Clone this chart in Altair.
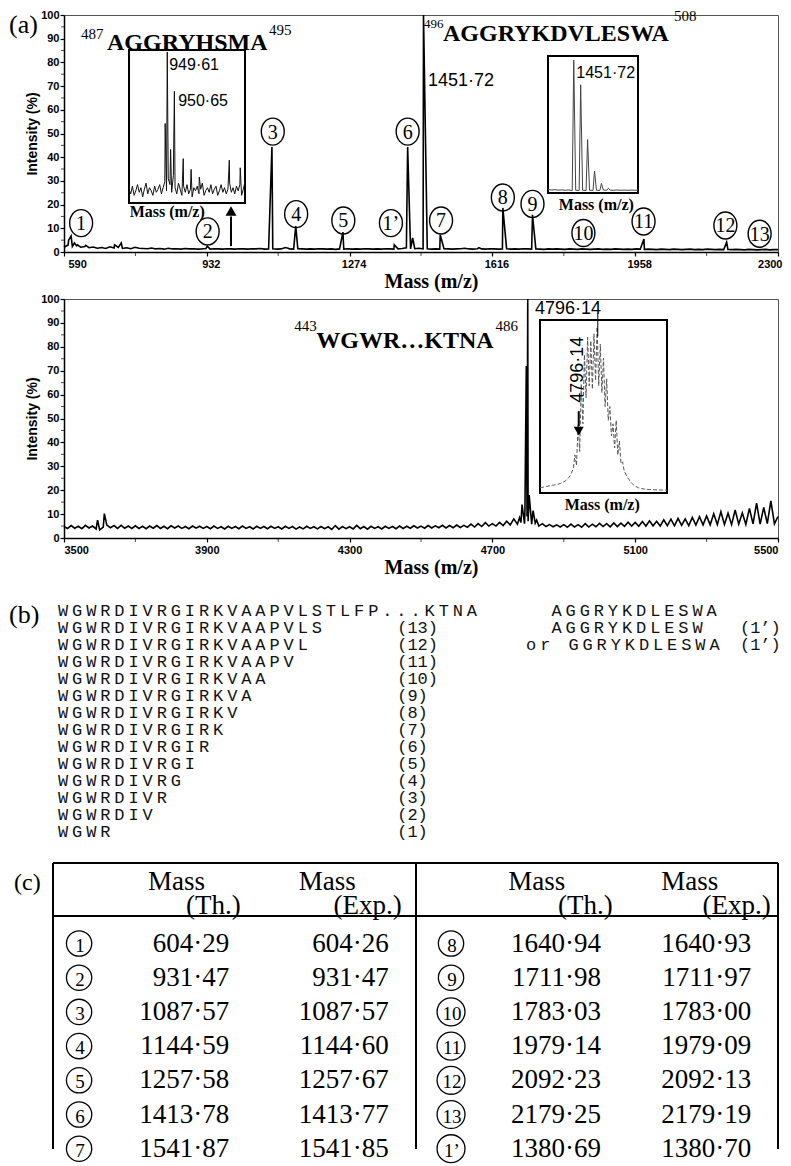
import altair as alt
import pandas as pd

SANS = "Liberation Sans, Arial, Helvetica, sans-serif"
SERIF = "Liberation Serif, Times New Roman, Times, serif"
MONO = "Liberation Mono, Courier New, Courier, monospace"

# ============================ DATA ============================
# (a) upper spectrum, m/z 590-2300: baseline read every 10 Da, plus peak apices
top_start, top_step = 590, 10
top_baseline = [
    2.0, 3.0, 2.4, 2.6, 2.0, 2.3, 1.8, 2.1, 1.6, 1.9, 1.5, 2.2, 1.7, 1.9, 1.5, 1.8, 1.4, 2.0, 1.6, 1.5,
    1.4, 1.7, 1.3, 1.5, 1.2, 1.6, 1.3, 1.4, 1.2, 1.5, 1.3, 1.4, 1.2, 1.3, 1.5, 1.2, 1.4, 1.3, 1.2, 1.4,
    1.3, 1.2, 1.4, 1.3, 1.2, 1.4, 1.3, 1.5, 1.2, 1.3, 1.4, 1.2, 1.3, 1.9, 1.3, 1.2, 1.4, 1.3, 1.2, 1.3,
    1.2, 1.4, 1.3, 1.2, 1.3, 1.1, 1.3, 1.2, 1.4, 1.2, 1.3, 1.2, 1.4, 1.3, 1.2, 1.3, 1.2, 1.4, 1.3, 1.2,
    1.3, 1.5, 1.8, 1.3, 1.4, 1.6, 1.3, 1.4, 1.2, 1.3, 1.2, 1.4, 1.3, 1.2, 1.3, 1.4, 1.6, 1.3, 1.2, 1.4,
    1.3, 1.2, 1.4, 1.3, 1.2, 1.3, 1.4, 1.2, 1.3, 1.2, 1.4, 1.3, 1.2, 1.3, 1.2, 1.1, 1.3, 1.2, 1.3, 1.2,
    1.1, 1.3, 1.2, 1.1, 1.3, 1.2, 1.1, 1.2, 1.3, 1.1, 1.2, 1.1, 1.3, 1.2, 1.1, 1.2, 1.1, 1.3, 1.2, 1.1,
    1.2, 1.1, 1.0, 1.2, 1.1, 1.0, 1.2, 1.1, 1.0, 1.1, 1.2, 1.0, 1.1, 1.0, 1.2, 1.1, 1.0, 1.1, 1.0, 1.1,
    1.0, 1.1, 1.0, 0.9, 1.1, 1.0, 0.9, 1.0, 1.1, 0.9, 1.0, 1.0,
]
top_peak_mass = [601, 607, 615, 622, 642, 711, 727, 933, 1088, 1127, 1145, 1258, 1381, 1413,
                 1425, 1451, 1491, 1584, 1641, 1712, 1979, 2177]
top_peak_int = [5.0, 6.8, 3.8, 3.0, 2.8, 3.0, 3.8, 2.5, 44.3, 1.6, 10.9, 8.4, 3.0, 44.3,
                5.9, 100.0, 7.3, 1.8, 18.6, 15.7, 5.5, 4.1]
top_ticks = [590, 932, 1274, 1616, 1958, 2300]
top_minor = [761, 1103, 1445, 1787, 2129]

top_circle_labels = ["1", "2", "3", "4", "5", "1’", "6", "7", "8", "9", "10", "11", "12", "13"]
top_circle_mass = [631, 934, 1090, 1146, 1259, 1373, 1413, 1493, 1641, 1712, 1834, 1978, 2174, 2256]
top_circle_int = [12.2, 8.7, 50.8, 16.0, 13.3, 12.2, 50.8, 13.3, 23.0, 20.3, 8.0, 12.9, 11.2, 7.7]

# inset of the 949.61 region (arbitrary inset intensity units)
in1_start, in1_step = 944.0, 0.25
in1_baseline = [
    9, 6, 11, 5, 8, 12, 7, 10, 4, 9,
    13, 6, 10, 8, 5, 11, 7, 9, 12, 6,
    10, 14, 8, 16, 12, 7, 18, 10, 6, 13,
    9, 5, 11, 7, 12, 6, 9, 4, 10, 8,
    11, 6, 9, 13, 5, 8, 10, 7, 12, 6,
    9, 11, 5, 8, 12, 7, 10, 6, 9, 13,
    7, 10, 6, 11, 8, 12, 5, 9, 14,
]
in1_peak_mass = [949.3, 949.61, 950.1, 950.65, 951.95, 953.1, 954.3, 958.7, 960.3]
in1_peak_int = [52, 98.7, 35, 73, 29, 22, 17, 28, 23]

# inset of the 1451.72 isotope cluster
in2_start, in2_step = 1448.0, 0.5
in2_baseline = [2.5, 2.2, 2.4, 2.1, 2.3, 2.0, 2.2, 1.8, 2.0, 1.8, 2.0, 1.8, 2.0, 1.9,
                2.0, 1.9, 2.1, 2.0, 2.1, 2.0, 2.2, 2.0, 2.1, 2.0, 2.1, 2.0, 2.1]
in2_peak_mass = [1451.72, 1452.72, 1453.72, 1454.72, 1455.72, 1456.72]
in2_peak_int = [97, 79, 39, 16, 7, 3.5]

# (a) lower spectrum, m/z 3500-5500
bot_start, bot_step = 3500, 10
bot_baseline = [
    4.8, 4.0, 5.2, 4.1, 4.9, 3.9, 5.3, 4.2, 5.0, 3.8, 3.4, 4.6, 5.4, 4.3, 5.2, 4.0, 5.3, 4.1, 5.0, 4.0,
    5.1, 4.0, 4.9, 3.9, 5.0, 4.1, 5.2, 4.0, 4.9, 3.9, 5.1, 4.2, 5.0, 4.0, 4.8, 3.9, 5.0, 4.1, 4.9, 4.0,
    4.8, 3.9, 5.0, 4.0, 4.7, 3.8, 4.9, 4.0, 4.8, 3.9, 5.0, 4.0, 4.7, 3.8, 4.9, 4.0, 4.8, 3.9, 4.9, 4.0,
    4.7, 3.8, 4.9, 4.0, 4.8, 3.7, 4.6, 3.8, 4.9, 4.0, 4.7, 3.8, 4.8, 3.9, 4.7, 3.6, 5.2, 3.7, 4.8, 3.9,
    4.7, 3.8, 5.3, 3.9, 4.8, 3.7, 4.9, 4.0, 4.7, 3.8, 4.9, 4.0, 4.8, 3.9, 5.0, 4.0, 4.9, 4.1, 5.1, 4.2,
    5.0, 4.1, 5.2, 4.2, 5.1, 4.3, 5.3, 4.2, 5.2, 4.3, 5.4, 4.4, 5.3, 4.5, 5.8, 4.6, 6.0, 4.8, 6.4, 5.0,
    6.0, 5.0, 6.5, 5.2, 7.0, 5.5, 8.0, 5.8, 6.5, 6.0, 7.0, 5.8, 6.2, 5.0, 6.0, 4.8, 5.6, 4.7, 5.5, 4.6,
    5.6, 4.5, 5.8, 4.6, 5.6, 4.5, 6.0, 4.6, 5.8, 4.7, 6.1, 4.8, 6.0, 4.7, 6.3, 4.8, 6.2, 4.9, 6.6, 5.0,
    6.5, 4.9, 6.9, 5.0, 7.2, 5.1, 7.0, 5.0, 7.6, 5.2, 7.9, 5.1, 8.2, 5.3, 8.0, 5.2, 8.6, 5.4, 8.9, 5.5,
    9.2, 5.5, 10.1, 5.6, 11.0, 5.7, 10.4, 5.6, 11.7, 5.8, 10.5, 5.7, 12.4, 5.9, 14.6, 5.8, 12.8, 6.0, 15.5, 5.9,
    9.0,
]
bot_peak_mass = [3594, 3613, 4776, 4783, 4791, 4795, 4797, 4799, 4803, 4814, 4824]
bot_peak_int = [7.5, 10.2, 8.5, 14.0, 10.0, 72.0, 9.0, 100.0, 18.0, 11.5, 7.5]
bot_ticks = [3500, 3900, 4300, 4700, 5100, 5500]
bot_minor = [3700, 4100, 4500, 4900, 5300]

# inset of the 4796.14 isotope envelope
in3_start, in3_step = 4778.0, 0.5
in3_values = [
    3.0, 3.2, 3.4, 3.6, 3.8, 4.0, 4.2, 4.3, 4.5, 4.6,
    4.8, 5.0, 5.3, 5.6, 6.0, 6.5, 7.0, 7.8, 8.8, 10.0,
    12.0, 14.0, 22.0, 16.0, 40.0, 24.0, 63.0, 40.0, 80.0, 55.0,
    90.0, 62.0, 88.0, 60.0, 92.0, 65.0, 96.0, 62.0, 86.0, 58.0,
    78.0, 50.0, 66.0, 42.0, 50.0, 33.0, 40.0, 26.0, 42.0, 22.0,
    30.0, 17.0, 18.0, 13.0, 11.0, 9.0, 8.0, 6.5, 5.5, 4.5,
    4.0, 3.5, 3.0, 2.8, 2.6, 2.4, 2.2, 2.1, 2.0, 2.0,
    2.0, 1.9, 1.9, 1.8, 1.8, 1.8, 1.7, 1.7, 1.7, 1.7, 1.7,
]

y_ticks = [0, 10, 20, 30, 40, 50, 60, 70, 80, 90, 100]
y_minor = [5, 15, 25, 35, 45, 55, 65, 75, 85, 95]

# (b) sequences
b_sequences = [
    "WGWRDIVRGIRKVAAPVLSTLFP...KTNA", "WGWRDIVRGIRKVAAPVLS", "WGWRDIVRGIRKVAAPVL",
    "WGWRDIVRGIRKVAAPV", "WGWRDIVRGIRKVAA", "WGWRDIVRGIRKVA", "WGWRDIVRGIRKV",
    "WGWRDIVRGIRK", "WGWRDIVRGIR", "WGWRDIVRGI", "WGWRDIVRG", "WGWRDIVR", "WGWRDIV", "WGWR",
]
b_numbers = ["(13)", "(12)", "(11)", "(10)", "(9)", "(8)", "(7)", "(6)", "(5)", "(4)", "(3)", "(2)", "(1)"]
b_right = ["AGGRYKDLESWA", "AGGRYKDLESW", "or GGRYKDLESWA"]
b_right_tags = ["(1’)", "(1’)"]

# (c) table
c_labels_left = ["1", "2", "3", "4", "5", "6", "7"]
c_th_left = [604.29, 931.47, 1087.57, 1144.59, 1257.58, 1413.78, 1541.87]
c_exp_left = [604.26, 931.47, 1087.57, 1144.60, 1257.67, 1413.77, 1541.85]
c_labels_right = ["8", "9", "10", "11", "12", "13", "1’"]
c_th_right = [1640.94, 1711.98, 1783.03, 1979.14, 2092.23, 2179.25, 1380.69]
c_exp_right = [1640.93, 1711.97, 1783.00, 1979.09, 2092.13, 2179.19, 1380.70]

# ============================ LAYOUT ============================
W = 714
H_TOP, H_BOT, H_B, H_C = 237, 239, 231, 286
GAP = 47
ELLIPSE = ("M0,-1C0.4695,-1 0.85,-0.5523 0.85,0C0.85,0.5523 0.4695,1 0,1"
           "C-0.4695,1 -0.85,0.5523 -0.85,0C-0.85,-0.5523 -0.4695,-1 0,-1Z")


def spectrum_df(start, step, base, pk_m, pk_i, xf="mass", yf="inten"):
    m = [start + step * i for i in range(len(base))]
    df = pd.DataFrame({xf: m + list(pk_m), yf: list(base) + list(pk_i)})
    return df.sort_values(xf).reset_index(drop=True)


def enc(xf, yf, xs, ys, xa=None, ya=None):
    """Position encodings; xa/ya None -> axis hidden."""
    return dict(x=alt.X(f"{xf}:Q", scale=xs, axis=xa), y=alt.Y(f"{yf}:Q", scale=ys, axis=ya))


def label(t, x, y, xs, ys, font, size, weight="normal", align="left", baseline="alphabetic",
          angle=None, xf="mass", yf="inten", xa=None, ya=None):
    mk = dict(font=font, fontSize=size, fontWeight=weight, align=align, baseline=baseline,
              color="black")
    if angle is not None:
        mk["angle"] = angle
    df = pd.DataFrame({xf: [x], yf: [y], "t": [t]})
    return alt.Chart(df).mark_text(**mk).encode(text="t:N", **enc(xf, yf, xs, ys, xa, ya))


y_pct = alt.Scale(domain=[0, 100], nice=False, zero=False)
Y_AXIS = alt.Axis(values=y_ticks, title="Intensity (%)", titleFont=SANS, titleFontSize=14,
                  titleFontWeight="bold", titlePadding=1, labelPadding=1, labelOverlap=False,
                  format="d")


def x_axis(ticks, dx):
    kw = dict(values=ticks, title="Mass (m/z)", titleFont=SERIF, titleFontSize=20,
              titleFontWeight="bold", titlePadding=2, labelFlush=True, format="d",
              labelPadding=2, labelOverlap=False, titleX=367)
    if dx:
        kw["labelOffset"] = dx
    return alt.Axis(**kw)


def base_layers(line_df, xs, xa, minor, x0):
    line = alt.Chart(line_df).mark_line(color="black", strokeWidth=1.6).encode(
        **enc("mass", "inten", xs, y_pct, xa, Y_AXIS))
    xm = alt.Chart(pd.DataFrame({"mass": minor, "inten": 0})).mark_tick(
        orient="vertical", size=4, thickness=1, color="black", yOffset=2
    ).encode(**enc("mass", "inten", xs, y_pct, xa, Y_AXIS))
    ym = alt.Chart(pd.DataFrame({"inten": y_minor, "mass": x0})).mark_tick(
        orient="horizontal", size=3, thickness=1, color="black", xOffset=-1.5
    ).encode(**enc("mass", "inten", xs, y_pct, xa, Y_AXIS))
    return [line, xm, ym]


def inset_layers(line_df, dom, xr, yr, dash=None, color="#222", width=1.0):
    xs = alt.Scale(domain=dom, range=xr, nice=False, zero=False)
    ys = alt.Scale(domain=[0, 100], range=yr, nice=False, zero=False)
    box_df = pd.DataFrame({"im": [dom[0]], "im2": [dom[1]], "ii": [0], "ii2": [100]})
    box = alt.Chart(box_df).mark_rect(fill="white", stroke="black", strokeWidth=2).encode(
        x=alt.X("im:Q", scale=xs, axis=None), x2="im2:Q",
        y=alt.Y("ii:Q", scale=ys, axis=None), y2="ii2:Q",
    )
    mk = dict(color=color, strokeWidth=width)
    if dash:
        mk["strokeDash"] = dash
    tr = alt.Chart(line_df).mark_line(**mk).encode(**enc("im", "ii", xs, ys))
    return xs, ys, [box, tr]


# ---------------- top spectrum ----------------
xs_top = alt.Scale(domain=[590, 2300], nice=False, zero=False)
XA_TOP = x_axis(top_ticks, 4)
top_line = spectrum_df(top_start, top_step, top_baseline, top_peak_mass, top_peak_int)
top_layers = base_layers(top_line, xs_top, XA_TOP, top_minor, 590)

circ_top = pd.DataFrame({"mass": top_circle_mass, "inten": top_circle_int, "t": top_circle_labels})
top_layers.append(
    alt.Chart(circ_top).mark_point(shape=ELLIPSE, filled=False, color="black", strokeWidth=1.4,
                                   size=729, opacity=1)
    .encode(**enc("mass", "inten", xs_top, y_pct, XA_TOP, Y_AXIS))
)
top_layers.append(
    alt.Chart(circ_top).mark_text(font=SERIF, fontSize=20, baseline="middle", color="black", dy=1)
    .encode(text="t:N", **enc("mass", "inten", xs_top, y_pct, XA_TOP, Y_AXIS))
)
top_texts = [
    ("(a)", 458.3, 92.6, SERIF, 26, "normal"),
    ("487", 630.7, 89.9, SERIF, 15, "normal"),
    ("AGGRYHSMA", 693.0, 85.4, SERIF, 24, "bold"),
    ("495", 1081.0, 91.7, SERIF, 15, "normal"),
    ("496", 1452.2, 94.5, SERIF, 13, "normal"),
    ("AGGRYKDVLESWA", 1497.7, 88.9, SERIF, 24, "bold"),
    ("508", 2050.9, 97.5, SERIF, 15, "normal"),
    ("1451·72", 1461.8, 70.0, SANS, 18, "normal"),
]
for t, x, y, f, s, wgt in top_texts:
    top_layers.append(label(t, x, y, xs_top, y_pct, f, s, wgt, xa=XA_TOP, ya=Y_AXIS))
# arrow pointing at the 949.61 region
arrow_df = pd.DataFrame({"mass": [990], "inten": [2.5], "inten2": [15.0]})
top_layers.append(alt.Chart(arrow_df).mark_rule(color="black", strokeWidth=2).encode(
    y2="inten2:Q", **enc("mass", "inten", xs_top, y_pct, XA_TOP, Y_AXIS)))
top_layers.append(alt.Chart(pd.DataFrame({"mass": [990], "inten": [17.3]})).mark_point(
    shape="triangle-up", filled=True, color="black", size=120, opacity=1
).encode(**enc("mass", "inten", xs_top, y_pct, XA_TOP, Y_AXIS)))

top_main = alt.layer(*top_layers)

in1_df = spectrum_df(in1_start, in1_step, in1_baseline, in1_peak_mass, in1_peak_int, "im", "ii")
xs1, ys1, in1 = inset_layers(in1_df, [944, 961], [65, 181], [188, 35], color="#111", width=1.0)
in1 += [
    label("949·61", 949.89, 90.4, xs1, ys1, SANS, 16, baseline="middle", xf="im", yf="ii"),
    label("950·65", 951.2, 66.5, xs1, ys1, SANS, 16, baseline="middle", xf="im", yf="ii"),
    label("Mass (m/z)", 949.6, -6.1, xs1, ys1, SERIF, 16, "bold", align="center", baseline="middle",
          xf="im", yf="ii"),
]
in2_df = spectrum_df(in2_start, in2_step, in2_baseline, in2_peak_mass, in2_peak_int, "im", "ii")
xs2, ys2, in2 = inset_layers(in2_df, [1448, 1461], [484, 574], [178, 41], color="#444", width=1.0)
in2 += [
    label("1451·72", 1452.09, 87.8, xs2, ys2, SANS, 16, baseline="middle", xf="im", yf="ii"),
    label("Mass (m/z)", 1454.98, -9.1, xs2, ys2, SERIF, 16, "bold", align="center", baseline="middle",
          xf="im", yf="ii"),
]

top = alt.layer(top_main, alt.layer(*in1), alt.layer(*in2)).resolve_scale(
    x="independent", y="independent"
).properties(width=W, height=H_TOP, view=alt.ViewBackground(stroke="#555", strokeWidth=1))

# ---------------- bottom spectrum ----------------
xs_bot = alt.Scale(domain=[3500, 5500], nice=False, zero=False)
XA_BOT = x_axis(bot_ticks, 0)
bot_line = spectrum_df(bot_start, bot_step, bot_baseline, bot_peak_mass, bot_peak_int)
bot_layers = base_layers(bot_line, xs_bot, XA_BOT, bot_minor, 3500)
bot_texts = [
    ("443", 4144.9, 86.6, SERIF, 15, "normal"),
    ("WGWR…KTNA", 4206.6, 79.5, SERIF, 24, "bold"),
    ("486", 4708.4, 86.6, SERIF, 15, "normal"),
]
for t, x, y, f, s, wgt in bot_texts:
    bot_layers.append(label(t, x, y, xs_bot, y_pct, f, s, wgt, xa=XA_BOT, ya=Y_AXIS))
bot_main = alt.layer(*bot_layers)

in3_df = pd.DataFrame({"im": [in3_start + in3_step * i for i in range(len(in3_values))],
                       "ii": in3_values})
xs3, ys3, in3 = inset_layers(in3_df, [4778, 4818], [476, 603], [194, 21], dash=[4, 2],
                             color="#555", width=1.0)
lead_df = pd.DataFrame({"im": [4796.2], "ii": [103.9], "ii2": [90.6]})
in3.append(alt.Chart(lead_df).mark_rule(color="black", strokeWidth=1).encode(
    y2="ii2:Q", **enc("im", "ii", xs3, ys3)))
arr3_df = pd.DataFrame({"im": [4790.2], "ii": [47.3], "ii2": [38.7]})
in3.append(alt.Chart(arr3_df).mark_rule(color="black", strokeWidth=2).encode(
    y2="ii2:Q", **enc("im", "ii", xs3, ys3)))
in3.append(alt.Chart(pd.DataFrame({"im": [4790.2], "ii": [35.8]})).mark_point(
    shape="triangle-down", filled=True, color="black", size=100, opacity=1
).encode(**enc("im", "ii", xs3, ys3)))
in3 += [
    label("4796·14", 4797.2, 106.5, xs3, ys3, SANS, 18, align="right", baseline="middle",
          xf="im", yf="ii"),
    label("4796·14", 4789.9, 71.3, xs3, ys3, SANS, 18, align="center", baseline="middle",
          angle=270, xf="im", yf="ii"),
    label("Mass (m/z)", 4797.6, -6.7, xs3, ys3, SERIF, 16, "bold", align="center", baseline="middle",
          xf="im", yf="ii"),
]

bottom = alt.layer(bot_main, alt.layer(*in3)).resolve_scale(
    x="independent", y="independent"
).properties(width=W, height=H_BOT, view=alt.ViewBackground(stroke="#555", strokeWidth=1))

# ---------------- (b) sequences (monospaced columns) ----------------
xb = alt.Scale(domain=[0, 50], range=[-8, 697], nice=False, zero=False)
yb = alt.Scale(domain=[0, 13], range=[26, 247], nice=False, zero=False)
b_col = {"seq": 0.0, "num": 24.2, "right": 35.0, "or": 33.2, "tag": 51.4, "panel": -3.33}


def explode(strings, starts, rows):
    recs = []
    for s, c0, r in zip(strings, starts, rows):
        for i, ch in enumerate(s):
            if ch != " ":
                recs.append({"col": c0 + i + 0.5, "row": r, "t": ch})
    return pd.DataFrame(recs)


chars = pd.concat([
    explode(b_sequences, [b_col["seq"]] * len(b_sequences), list(range(len(b_sequences)))),
    explode(b_right, [b_col["right"], b_col["right"], b_col["or"]], [0, 1, 2]),
], ignore_index=True)
num_df = pd.DataFrame({"col": b_col["num"], "row": list(range(1, len(b_numbers) + 1)), "t": b_numbers})
tag_df = pd.DataFrame({"col": b_col["tag"], "row": [1, 2], "t": b_right_tags})


def mono(df, align):
    return alt.Chart(df).mark_text(font=MONO, fontSize=17, align=align, baseline="middle",
                                   color="#111").encode(text="t:N", **enc("col", "row", xb, yb))


panel_b = alt.layer(
    mono(chars, "center"), mono(num_df, "left"), mono(tag_df, "right"),
    label("(b)", b_col["panel"], 0.25, xb, yb, SERIF, 26, baseline="middle", xf="col", yf="row"),
).properties(width=W, height=H_B)

# ---------------- (c) table ----------------
xc = alt.Scale(domain=[0, 100], range=[-11, 714], nice=False, zero=False)
yc = alt.Scale(domain=[0, 6], range=[88.5, 293.7], nice=False, zero=False)
c_cols = {"circle": [3.6, 54.9], "th": [24.3, 75.6], "exp": [46.3, 96.3]}
c_rows = {"top": -2.588, "head": -1.038, "mass": -1.80, "sub": -1.11, "panel": -1.81,
          "bottom": (H_C - 88.5) / 34.2}


def fmt(v):
    return f"{v:.2f}".replace(".", "·")


rows = list(range(7))
tab = pd.concat([
    pd.DataFrame({"row": rows, "lab": c_labels_left, "th": [fmt(v) for v in c_th_left],
                  "ex": [fmt(v) for v in c_exp_left], "half": 0}),
    pd.DataFrame({"row": rows, "lab": c_labels_right, "th": [fmt(v) for v in c_th_right],
                  "ex": [fmt(v) for v in c_exp_right], "half": 1}),
], ignore_index=True)
tab["xc"] = [c_cols["circle"][h] for h in tab["half"]]
tab["xt"] = [c_cols["th"][h] for h in tab["half"]]
tab["xe"] = [c_cols["exp"][h] for h in tab["half"]]
tab["big"] = [len(s) > 1 for s in tab["lab"]]

num_mk = dict(font=SERIF, fontSize=27, align="right", baseline="alphabetic", color="black")
c_layers = [
    alt.Chart(tab).mark_text(**num_mk).encode(text="th:N", **enc("xt", "row", xc, yc)),
    alt.Chart(tab).mark_text(**num_mk).encode(text="ex:N", **enc("xe", "row", xc, yc)),
    alt.Chart(tab[~tab["big"]]).mark_point(shape="circle", filled=False, color="black", strokeWidth=1.3,
                                         size=640, opacity=1, yOffset=-8).encode(**enc("xc", "row", xc, yc)),
    alt.Chart(tab[tab["big"]]).mark_point(shape="circle", filled=False, color="black", strokeWidth=1.3,
                                        size=780, opacity=1, yOffset=-8).encode(**enc("xc", "row", xc, yc)),
    alt.Chart(tab).mark_text(font=SERIF, fontSize=19, baseline="middle", align="center", color="black",
                             dy=-6, dx=1).encode(text="lab:N", **enc("xc", "row", xc, yc)),
]
rule_df = pd.DataFrame({
    "x": [0, 0, 0, 50.07, 100],
    "x2": [100, 100, 0, 50.07, 100],
    "row": [c_rows["top"], c_rows["head"], c_rows["top"], c_rows["top"], c_rows["top"]],
    "row2": [c_rows["top"], c_rows["head"], c_rows["bottom"], c_rows["bottom"], c_rows["bottom"]],
})
c_layers.append(alt.Chart(rule_df).mark_rule(color="black", strokeWidth=2).encode(
    x2="x2:Q", y2="row2:Q", **enc("x", "row", xc, yc)))
head = [("Mass", 13.1, "mass", "left"), ("(Th.)", 25.9, "sub", "right"),
        ("Mass", 33.9, "mass", "left"), ("(Exp.)", 48.1, "sub", "right"),
        ("Mass", 62.8, "mass", "left"), ("(Th.)", 77.2, "sub", "right"),
        ("Mass", 83.9, "mass", "left"), ("(Exp.)", 99.0, "sub", "right")]
for t, x, r, al in head:
    c_layers.append(label(t, x, c_rows[r], xc, yc, SERIF, 27, align=al, xf="x", yf="row"))
c_layers.append(label("(c)", -5.38, c_rows["panel"], xc, yc, SERIF, 24, xf="x", yf="row"))
panel_c = alt.layer(*c_layers).properties(width=W, height=H_C)

chart = alt.vconcat(top, bottom, panel_b, panel_c, spacing=GAP, bounds="flush").properties(
    padding=0
).configure(font=SANS).configure_view(stroke="transparent").configure_axis(
    domainColor="black", domainWidth=1.5, tickColor="black", tickWidth=1.2, tickSize=4,
    labelColor="black", labelFont=SANS, labelFontSize=11, labelFontWeight="bold",
    titleColor="black", grid=False,
)

chart.save("out.html", embed_options={"renderer": "svg", "actions": False})
